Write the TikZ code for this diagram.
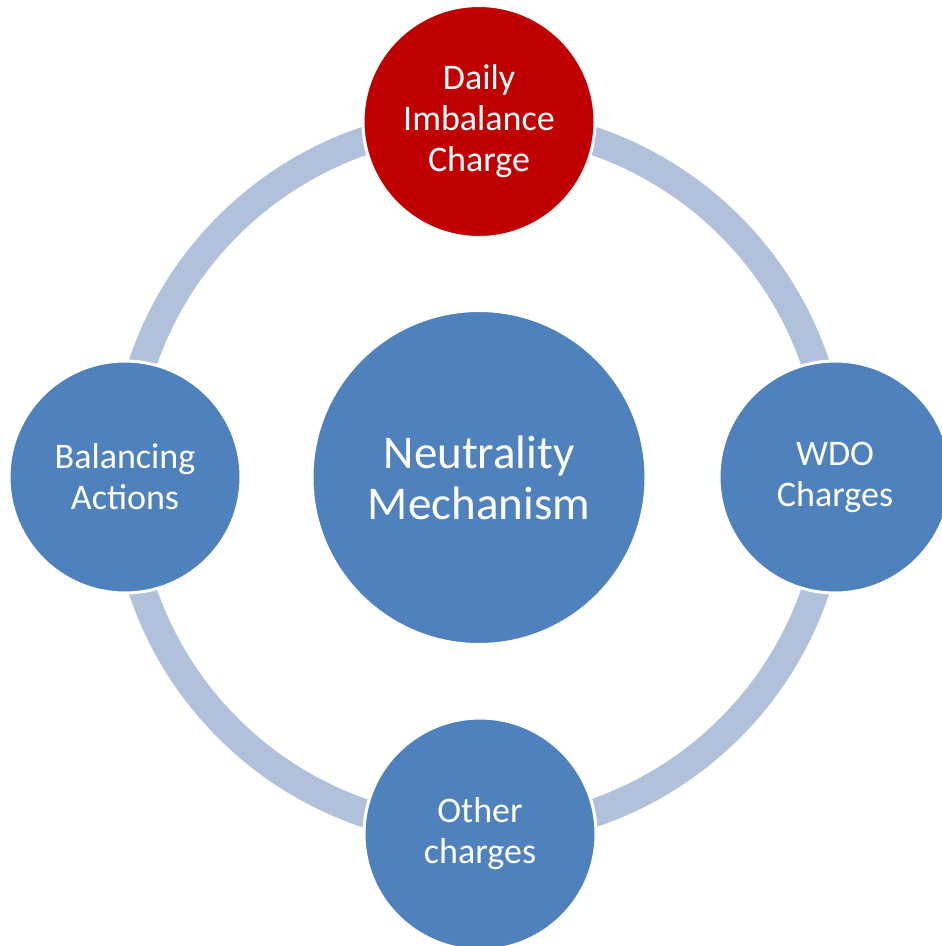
\documentclass[tikz,border=0pt]{standalone}
\usepackage{fontspec}
\setmainfont{Carlito}
\definecolor{cblue}{HTML}{4F81BD}
\definecolor{cred}{HTML}{C00000}
\definecolor{cring}{HTML}{B2C1DB}
\tikzset{
  bub/.style={circle, fill=cblue, draw=white, line width=3pt, text=white, align=center, inner sep=0pt, minimum size=232pt, font=\fontsize{36}{41}\selectfont},
  hub/.style={bub, minimum size=334pt, font=\fontsize{47}{51}\selectfont},
  ringline/.style={draw=cring, line width=28pt}
}
\begin{document}
\begin{tikzpicture}[x=1pt,y=-1pt]
\useasboundingbox (0,0) rectangle (942,946);
\clip (0,0) rectangle (942,946);
\fill[white] (0,0) rectangle (942,946);
\coordinate (c) at (479,477);
\draw[ringline] (c) circle (355pt);
\node[hub] (hub) at (479,477.5) {Neutrality\\Mechanism};
\node[bub, fill=cred] (top) at (479,121.5) {Daily\\Imbalance\\Charge};
\node[bub] (right) at (835,477) {WDO\\Charges};
\node[bub] (bottom) at (480,834) {Other\\charges};
\node[bub] (left) at (125,477) {Balancing\\Actions};
\end{tikzpicture}
\end{document}
